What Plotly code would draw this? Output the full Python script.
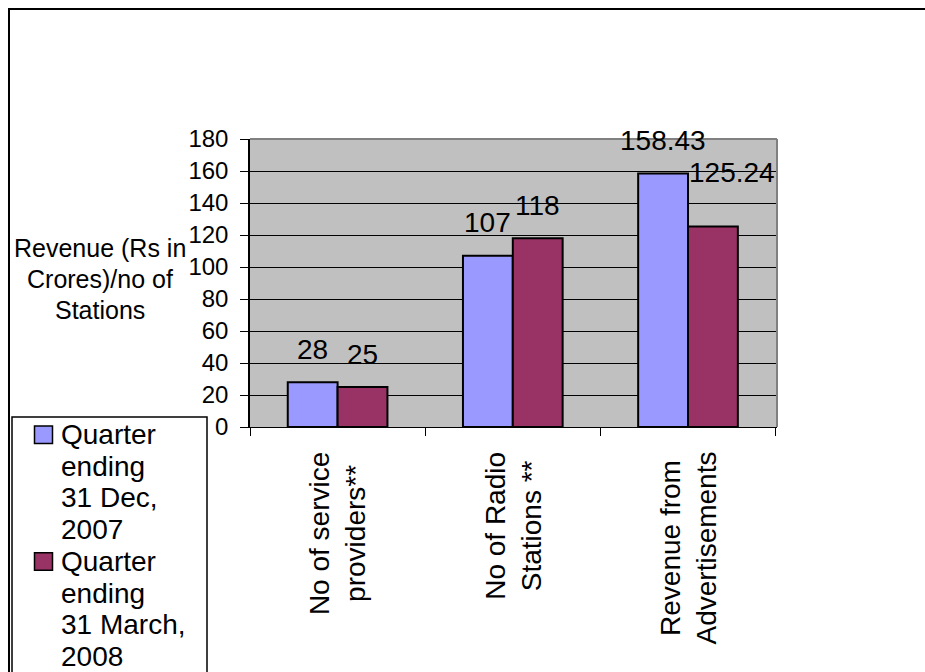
import plotly.graph_objects as go

# --- data -------------------------------------------------------------
categories = ["No of service providers**", "No of Radio Stations **", "Revenue from Advertisements"]
category_labels = ["No of service<br>providers**", "No of Radio<br>Stations **", "Revenue from<br>Advertisements"]
series_names = ["Quarter ending 31 Dec, 2007", "Quarter ending 31 March, 2008"]
legend_lines = [["Quarter", "ending", "31 Dec,", "2007"], ["Quarter", "ending", "31 March,", "2008"]]
dec_2007 = [28, 107, 158.43]
mar_2008 = [25, 118, 125.24]
y_ticks = [0, 20, 40, 60, 80, 100, 120, 140, 160, 180]
y_title_lines = ["Revenue (Rs in", "Crores)/no of", "Stations"]

# --- styling ----------------------------------------------------------
FONT = "Liberation Sans, Arial, sans-serif"
COLORS = ["#9999FF", "#993366"]
W, H = 925, 672
ML, MR, MT, MB = 250, 148, 139, 245
PW, PH = W - ML - MR, H - MT - MB


def px_x(x):
    return (x - ML) / PW


def px_y(y):
    return (H - MB - y) / PH


def px_path(points):
    return "M " + " L ".join(f"{px_x(x):.5f},{px_y(y):.5f}" for x, y in points)


fig = go.Figure()
for name, vals, col in zip(series_names, [dec_2007, mar_2008], COLORS):
    fig.add_trace(go.Bar(
        x=categories, y=vals, name=name,
        marker=dict(color=col, line=dict(color="black", width=2)),
        showlegend=False,
    ))

annotations = []

# value labels above each bar (one label nudged aside)
label_nudge = {(1, 2): (19, 21)}
half_bar = 25
for si, vals in enumerate([dec_2007, mar_2008]):
    for ci, v in enumerate(vals):
        dx, dy = label_nudge.get((si, ci), (0, 0))
        annotations.append(dict(
            x=categories[ci], y=v, xref="x", yref="y",
            text=f"{v:g}", showarrow=False,
            xanchor="center", yanchor="middle",
            xshift=(-half_bar if si == 0 else half_bar) + dx,
            yshift=33 + dy,
            font=dict(family=FONT, size=28, color="black"),
        ))

# rotated category labels
for cat, lab in zip(categories, category_labels):
    annotations.append(dict(
        x=cat, y=0, xref="x", yref="y", text=lab, showarrow=False,
        textangle=-90, xanchor="center", yanchor="top", yshift=-23,
        align="center", font=dict(family=FONT, size=28, color="black"),
    ))

# horizontal y-axis title, one line at a time
for i, txt in enumerate(y_title_lines):
    annotations.append(dict(
        x=px_x(100), y=px_y(248 + i * 31), xref="paper", yref="paper", text=txt,
        showarrow=False, xanchor="center", yanchor="middle",
        font=dict(family=FONT, size=25, color="black"),
    ))

shapes = [
    # outer chart border (runs off the right and bottom edges)
    dict(type="path", xref="paper", yref="paper",
         path=px_path([(9, 760), (9, 9), (925, 9)]),
         line=dict(color="black", width=2), layer="below"),
    # plot-area frame, top and right
    dict(type="line", xref="paper", yref="paper", x0=0, x1=1, y0=1, y1=1,
         line=dict(color="#808080", width=2), layer="above"),
    dict(type="line", xref="paper", yref="paper", x0=1, x1=1, y0=0, y1=1,
         line=dict(color="#808080", width=2), layer="above"),
    # legend box (open at the bottom edge of the page)
    dict(type="path", xref="paper", yref="paper",
         path=px_path([(12, 760), (12, 417), (207, 417), (207, 760)]),
         line=dict(color="black", width=1.5), layer="below"),
]

# legend swatches and text
line_step = 31.7
first_line = 434.5
for si, lines in enumerate(legend_lines):
    top = first_line + si * 4 * line_step
    shapes.append(dict(
        type="rect", xref="paper", yref="paper",
        x0=px_x(34.5), x1=px_x(52.5), y0=px_y(top - 8.5), y1=px_y(top + 9),
        fillcolor=COLORS[si], line=dict(color="black", width=1.5), layer="above",
    ))
    for li, txt in enumerate(lines):
        annotations.append(dict(
            x=px_x(59), y=px_y(top + li * line_step), xref="paper", yref="paper",
            text=txt, showarrow=False, xanchor="left", yanchor="middle",
            font=dict(family=FONT, size=28, color="black"),
        ))

fig.update_layout(
    width=W, height=H,
    margin=dict(l=ML, r=MR, t=MT, b=MB, pad=0),
    paper_bgcolor="white", plot_bgcolor="#C0C0C0",
    barmode="group", bargap=0.431, bargroupgap=0,
    font=dict(family=FONT, color="black"),
    annotations=annotations, shapes=shapes,
    showlegend=False,
)
fig.update_xaxes(
    type="category", showticklabels=False, showgrid=False,
    ticks="outside", tickson="boundaries", ticklen=8, tickcolor="black", tickwidth=1,
    showline=True, linecolor="black", linewidth=1, zeroline=False, fixedrange=True,
)
fig.update_yaxes(
    range=[0, 180], tickvals=y_ticks, ticktext=[str(t) for t in y_ticks],
    ticks="outside", ticklen=8, tickcolor="black", tickwidth=1,
    ticklabelstandoff=7,
    tickfont=dict(family=FONT, size=24, color="black"),
    showgrid=True, gridcolor="black", gridwidth=1,
    showline=True, linecolor="black", linewidth=1.5, zeroline=False, fixedrange=True,
)

fig.write_html("out.html")
